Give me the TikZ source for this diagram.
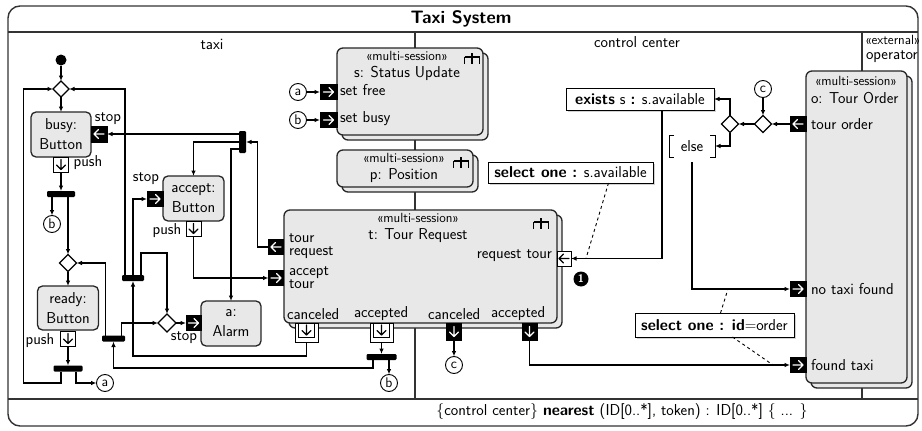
\documentclass[tikz,border=0pt]{standalone}
\usepackage{fontspec}
\usetikzlibrary{arrows.meta,shapes.geometric,shadows}
\renewcommand{\familydefault}{\sfdefault}
\newcommand\fmain{\fontsize{15.8}{20}\selectfont}
\newcommand\fsmall{\fontsize{13.3}{14}\selectfont}
\newcommand\fcirc{\fontsize{14}{14}\selectfont}
\newcommand\pinglyph[3]{\draw[#3, line width=1.3pt, line cap=round, line join=round, shift={(#1.center)}, rotate=#2] (-5,0)--(5,0) (0.5,-4.5)--(5,0)--(0.5,4.5);}
\begin{document}
\begin{tikzpicture}[x=1pt,y=-1pt, font=\fmain,
 every node/.style={inner sep=0pt, outer sep=0pt},
 ln/.style={line width=1.1pt, draw=black},
 arr/.style={ln, -{Latex[length=5.5pt,width=4.5pt]}},
 btn/.style={draw=black!85, fill=black!9, rounded corners=5pt, line width=1.3pt, align=center},
 ms/.style={draw=black!85, fill=black!9, rounded corners=6pt, line width=1.3pt},
 pinb/.style={minimum width=15pt, minimum height=15pt, draw=black, fill=black, line width=0.4pt},
 pinw/.style={minimum width=15pt, minimum height=15pt, draw=black, fill=white, line width=1pt},
 fork/.style={fill=black, rounded corners=1.2pt, minimum width=28pt, minimum height=6pt},
 dia/.style={diamond, draw=black, fill=white, line width=1.1pt, minimum width=17pt, minimum height=17pt},
 cir/.style={circle, draw=black, fill=white, line width=0.9pt, minimum size=17pt, font=\fcirc},
 note/.style={draw=black, fill=white, line width=0.7pt, drop shadow={shadow xshift=2pt, shadow yshift=-2pt, opacity=0.35}},
 sm/.style={font=\fsmall},
 tight/.style={align=left, font=\fontsize{15.8}{12.5}\selectfont},
 rake/.pic={\draw[line width=1.1pt] (0,0)--(0,11) (-7.5,4)--(7.5,4) (-7.5,4)--(-7.5,11) (7.5,4)--(7.5,11);}
]
\fill[white] (0,0) rectangle (922,431);
\useasboundingbox (0,0) rectangle (922,431);
% frame and partitions
\draw[line width=1.4pt, draw=black!80, rounded corners=12pt] (8,6) rectangle (918,426);
\draw[line width=1.1pt, black!80] (8,32) -- (918,32);
\draw[line width=1.1pt, black!80] (8,399) -- (918,399);
\draw[line width=1.1pt, black!80] (415,32) -- (415,399);
\draw[line width=1.1pt, black!80] (862,32) -- (862,399);
\node[font=\fontsize{18}{18}\selectfont\bfseries] (title) at (461,19) {Taxi System};
\node (ltaxi) at (212,44) {taxi};
\node (lcc) at (637,42) {control center};
\node[sm, anchor=west] (lext) at (865,40) {«external»};
\node[anchor=west] (lop) at (866,57) {operator};
\node (footer) at (622,412) {\{control center\} \textbf{nearest} (ID[0..*], token) : ID[0..*] \{ ... \}};

% s box
\node[ms, minimum width=146pt, minimum height=87pt] (sback) at (415,96.5) {};
\node[ms, minimum width=146pt, minimum height=87pt] (sbox) at (410,91.5) {};
\node[sm] (sst) at (407,56) {«multi-session»};
\node (sname) at (407,73) {s: Status Update};
\pic at (472,53) {rake};
\node[pinb, minimum width=17pt] (sfpin) at (328.5,92) {};
\node[pinb, minimum width=17pt] (sbpin) at (328.5,120) {};
\node[anchor=west] (sftxt) at (340,90) {set free};
\node[anchor=west] (sbtxt) at (340,119) {set busy};
\node[cir] (a2) at (298,92) {a};
\node[cir] (b3) at (298,120) {b};

% p box
\node[ms, minimum width=136pt, minimum height=37pt] (pback) at (410,173.5) {};
\node[ms, minimum width=136pt, minimum height=37pt] (pbox) at (405,168.5) {};
\node[sm] (pst) at (404,158) {«multi-session»};
\node (pname) at (404,176) {p: Position};
\pic at (461,157) {rake};

% t box
\node[ms, minimum width=273pt, minimum height=113pt] (tback) at (425.5,271.5) {};
\node[ms, minimum width=273pt, minimum height=113pt] (tbox) at (420.5,266.5) {};
\node[sm] (tst) at (418,218) {«multi-session»};
\node (tname) at (418,236) {t: Tour Request};
\pic at (541,218) {rake};
\node[tight, anchor=west] (ttr) at (289,246) {tour\\request};
\node[tight, anchor=west] (tat) at (289,277.5) {accept\\tour};
\node[anchor=west] (tc1) at (287,314) {canceled};
\node[anchor=west] (ta1) at (354,314) {accepted};
\node[anchor=west] (tc2) at (428,314) {canceled};
\node[anchor=west] (ta2) at (491,314) {accepted};
\node[anchor=east] (trt) at (552,256) {request tour};
\node[pinb] (trpin) at (276,247) {};
\node[pinb] (atpin) at (276,278) {};
\node[pinw, minimum width=23pt, minimum height=19pt] (tcan1o) at (306.5,332.5) {};
\node[pinw, minimum width=16pt, minimum height=14pt] (tcan1) at (306.5,330) {};
\node[pinw, minimum width=23pt, minimum height=19pt] (tacc1o) at (381.5,332.5) {};
\node[pinw, minimum width=16pt, minimum height=14pt] (tacc1) at (381.5,330) {};
\node[pinb, minimum height=17pt] (tcan2) at (454,331.5) {};
\node[pinb, minimum height=17pt] (tacc2) at (529.5,331.5) {};
\node[pinw, minimum width=14pt] (rtpin) at (564,258.5) {};
\node[circle, fill=black, minimum size=15pt, text=white, font=\fontsize{11}{11}\selectfont\bfseries] (one) at (581,279) {1};

% o box
\node[ms, minimum width=101pt, minimum height=312pt] (oback) at (861.5,232) {};
\node[ms, minimum width=101pt, minimum height=312pt] (obox) at (856.5,227) {};
\node[sm] (ost) at (856,81) {«multi-session»};
\node[anchor=west] (oname) at (811,98) {o: Tour Order};
\node[anchor=west] (otxt) at (811,124) {tour order};
\node[pinb, minimum width=16pt] (topin) at (798,124) {};
\node[pinb, minimum width=16pt] (ntfpin) at (798,289) {};
\node[pinb, minimum width=16pt] (ftpin) at (798,365) {};
\node[anchor=west] (ntftxt) at (811,289) {no taxi found};
\node[anchor=west] (fttxt) at (811,365) {found taxi};

% control center
\node[note, minimum width=148pt, minimum height=22pt] (exists) at (640,99) {\textbf{exists} s \textbf{:} s.available};
\node[note, minimum width=165pt, minimum height=21pt] (sel1) at (570.5,172.5) {\textbf{select one :} s.available};
\node[note, minimum width=159pt, minimum height=24pt] (sel2) at (714.5,325) {\textbf{select one : id}=order};
\node[minimum width=46pt, minimum height=22pt] (else) at (692,146) {else};
\draw[line width=1pt] ([xshift=5pt]else.north west) -- (else.north west) -- (else.south west) -- ([xshift=5pt]else.south west);
\draw[line width=1pt] ([xshift=-5pt]else.north east) -- (else.north east) -- (else.south east) -- ([xshift=-5pt]else.south east);
\node[dia] (D4) at (730,124) {};
\node[dia] (D5) at (763,124) {};
\node[cir] (c2) at (763,89) {c};
\node[cir] (c1) at (454,365) {c};

% taxi
\node[circle, fill=black, minimum size=11pt] (init) at (61,60) {};
\node[dia, minimum width=16pt, minimum height=16pt] (M) at (61,89) {};
\node[btn, minimum width=60pt, minimum height=45pt] (busy) at (61,134.5) {busy:\\Button};
\node[pinb, minimum width=16pt, minimum height=16pt] (bstop) at (99,134) {};
\node (bstoptxt) at (108,119) {stop};
\node[pinw] (bpush) at (61,164.5) {};
\node (bpushtxt) at (88,163) {push};
\node[fork] (F0) at (61,194) {};
\node[cir] (b1) at (52,224) {b};
\node[dia] (D3) at (68,263) {};
\node[btn, minimum width=61pt, minimum height=44pt] (ready) at (68,308) {ready:\\Button};
\node[pinw] (rpush) at (68,338.5) {};
\node (rpushtxt) at (40,341) {push};
\node[fork, minimum width=29pt] (F4) at (68,368.5) {};
\node[cir] (a1) at (105,383) {a};
\node[btn, minimum width=61pt, minimum height=45pt] (accept) at (193.5,198.5) {accept:\\Button};
\node[pinb, minimum width=16pt] (astop) at (155,199) {};
\node (astoptxt) at (146,179) {stop};
\node[pinw] (apush) at (193.5,228.5) {};
\node (apushtxt) at (167,231) {push};
\node[fork, minimum width=22pt] (F1) at (133,278) {};
\node[fork, minimum width=23pt] (F2) at (113.5,338.5) {};
\node[fork, minimum width=30pt] (F3) at (381.5,357) {};
\node[fork, minimum width=7pt, minimum height=22pt] (F5) at (242.5,142) {};
\node[dia, minimum width=18pt, minimum height=18pt] (D2) at (167,323) {};
\node[btn, minimum width=60pt, minimum height=45pt] (alarm) at (231,323.5) {a:\\Alarm};
\node[pinb] (alstop) at (193.5,323) {};
\node (alstoptxt) at (184,338) {stop};
\node[cir] (b2) at (389,383) {b};

% pin glyphs
\pinglyph{trpin}{180}{white}
\pinglyph{atpin}{0}{white}
\pinglyph{tcan1}{-90}{black}
\pinglyph{tacc1}{-90}{black}
\pinglyph{tcan2}{-90}{white}
\pinglyph{tacc2}{-90}{white}
\pinglyph{rtpin}{180}{black}
\pinglyph{sfpin}{0}{white}
\pinglyph{sbpin}{0}{white}
\pinglyph{topin}{180}{white}
\pinglyph{ntfpin}{0}{white}
\pinglyph{ftpin}{0}{white}
\pinglyph{bstop}{180}{white}
\pinglyph{bpush}{-90}{black}
\pinglyph{rpush}{-90}{black}
\pinglyph{astop}{0}{white}
\pinglyph{apush}{-90}{black}
\pinglyph{alstop}{0}{white}

% connectors taxi
\draw[arr] (init) -- (M.north);
\draw[arr] (M.south) -- (busy.north);
\draw[arr] (bpush.south) -- (F0.north);
\draw[arr] ([xshift=-9pt]F0.south) -- (b1.north);
\draw[arr] ([xshift=7pt]F0.south) -- (D3.north);
\draw[arr] (D3.south) -- (ready.north);
\draw[arr] (rpush.south) -- (F4.north);
\draw[arr] ([xshift=-7pt]F4.south) -- ++(0,11.5) -| ([xshift=-29.5pt]M.west) -- (M.west);
\draw[arr] ([xshift=8pt]F4.south) |- (a1.west);
\draw[arr] ([xshift=-8pt]F1.north) |- (M.east);
\draw[arr] (F1.north) |- (astop.west);
\draw[arr] ([xshift=8pt]F1.north) -- ++(0,-22) -| (D2.north);
\draw[arr] (tcan1o.south) -- ++(0,14) -| (F1.south);
\draw[arr] ([xshift=-8pt]F2.north) |- (D3.east);
\draw[arr] ([xshift=8pt]F2.north) |- (D2.west);
\draw[arr] ([xshift=-8.5pt]F3.south) -- ++(0,8) -| (F2.south);
\draw[arr] (tacc1o.south) -- (F3.north);
\draw[arr] ([xshift=7.5pt]F3.south) -- (b2.north);
\draw[arr] (D2.east) -- (alstop.west);
\draw[arr] (trpin.west) -- ++(-11,0) |- (F5.east);
\draw[arr] ([yshift=8pt]F5.west) -- (bstop.east);
\draw[arr] (F5.west) -| (accept.north);
\draw[arr] ([yshift=-7pt]F5.west) -| (alarm.north);
\draw[arr] (apush.south) |- (atpin.west);
\draw[arr] (a2.east) -- (sfpin.west);
\draw[arr] (b3.east) -- (sbpin.west);

% connectors control center
\draw[arr] (topin.west) -- (D5.east);
\draw[arr] (c2.south) -- (D5.north);
\draw[arr] (D5.west) -- (D4.east);
\draw[arr] (D4.north) |- (exists.east);
\draw[arr] (D4.south) |- (else.east);
\draw[arr] ([xshift=22pt]exists.south) |- (rtpin.east);
\draw[arr] ([yshift=-5pt]else.south) |- (ntfpin.west);
\draw[arr] (tacc2.south) |- (ftpin.west);
\draw[arr] (tcan2.south) -- (c1.north);
\draw[dashed, line width=0.9pt] ([xshift=38pt]sel1.south) -- ([xshift=15pt]rtpin.east);
\draw[dashed, line width=0.9pt] ([xshift=6pt]sel2.north) -- ([xshift=-62pt]ntfpin.west);
\draw[dashed, line width=0.9pt] ([xshift=18pt]sel2.south) -- ([xshift=-17pt]ftpin.west);
\end{tikzpicture}
\end{document}
